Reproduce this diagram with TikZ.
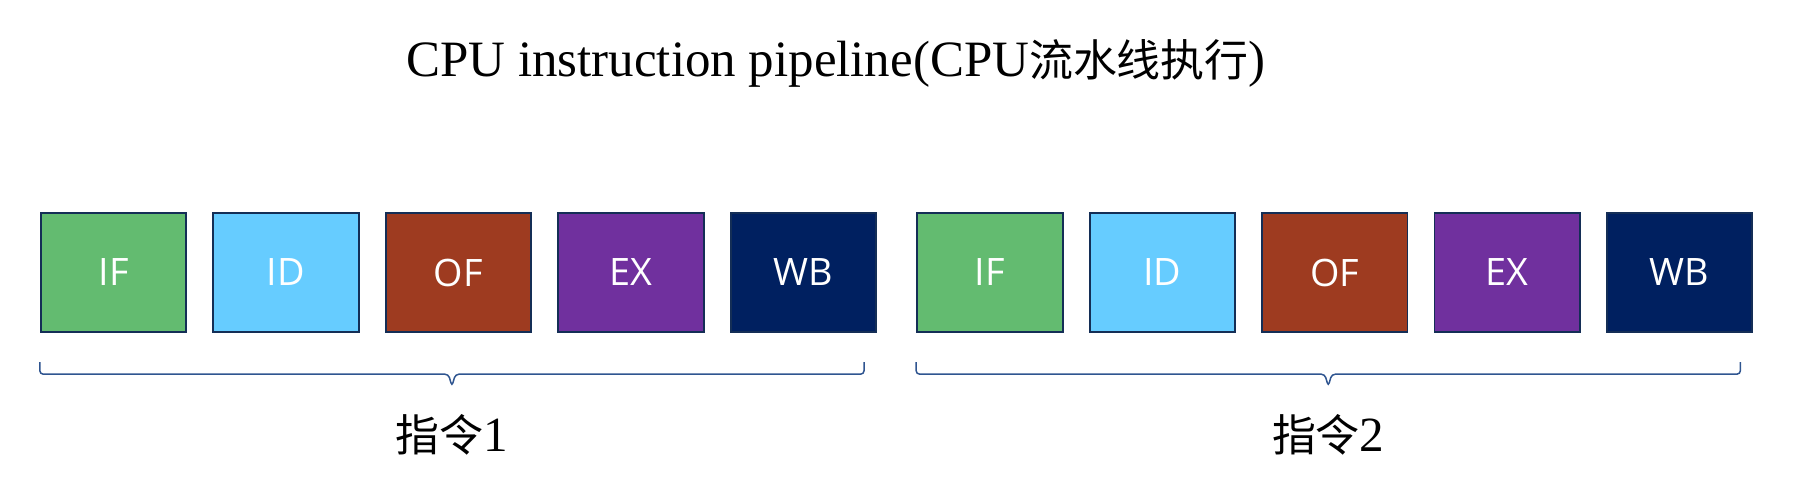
\documentclass[tikz,border=0pt]{standalone}
\usepackage{fontspec}
\setmainfont{Liberation Serif}
\newfontfamily\cjk{Noto Sans CJK SC}
\newfontfamily\stagefont{Open Sans}
\usetikzlibrary{calc}

\definecolor{ifgreen}{HTML}{63BB70}
\definecolor{idblue}{HTML}{66CCFF}
\definecolor{ofbrown}{HTML}{9E3B20}
\definecolor{expurple}{HTML}{70309E}
\definecolor{wbnavy}{HTML}{002060}
\definecolor{stageline}{HTML}{142E56}
\definecolor{braceblue}{HTML}{2F5590}

\begin{document}
\begin{tikzpicture}[x=0.02cm, y=-0.02cm, rectangle, every node/.style={inner sep=0pt}, stage/.style={draw=stageline, line width=1.1pt, minimum height=2.39cm, minimum width=2.91cm, text=white, font=\stagefont\fontsize{21.5}{24}\selectfont}, instr/.style={draw=braceblue, line width=0.85pt, rounded corners=0.07cm}, node distance=3.45cm]

			\useasboundingbox (0,0) rectangle (1806,493);

			\node [anchor=base] (title) at (836,77) {\fontsize{29}{34}\selectfont CPU instruction pipeline(CPU{\cjk\fontsize{25}{30}\selectfont 流水线执行})};

			\node [stage, fill=ifgreen] (IF1) at (113.5,272.5) {IF};
			\node [stage, fill=idblue] (ID1) [right of = IF1] {ID};
			\node [stage, fill=ofbrown] (OF1) [right of = ID1] {OF};
			\node [stage, fill=expurple] (EX1) [right of = OF1] {EX};
			\node [stage, fill=wbnavy] (WB1) [right of = EX1] {WB};

			\node [stage, fill=ifgreen] (IF2) [right of = WB1, node distance=3.73cm] {IF};
			\node [stage, fill=idblue] (ID2) [right of = IF2] {ID};
			\node [stage, fill=ofbrown] (OF2) [right of = ID2] {OF};
			\node [stage, fill=expurple] (EX2) [right of = OF2] {EX};
			\node [stage, fill=wbnavy] (WB2) [right of = EX2] {WB};

			\coordinate (B1s) at ([yshift=-0.58cm]IF1.south west);
			\coordinate (B1e) at ([xshift=-0.26cm, yshift=-0.58cm]WB1.south east);
			\coordinate (B1m) at ($(B1s)!0.5!(B1e)$);
			\coordinate (B2s) at ([yshift=-0.58cm]IF2.south west);
			\coordinate (B2e) at ([xshift=-0.26cm, yshift=-0.58cm]WB2.south east);
			\coordinate (B2m) at ($(B2s)!0.5!(B2e)$);

			\draw [instr] (B1s) -- ++(0,-0.24cm) -- ([xshift=-0.07cm, yshift=-0.24cm]B1m) -- ([yshift=-0.48cm]B1m)
			-- ([xshift=0.07cm, yshift=-0.24cm]B1m) -- ([yshift=-0.24cm]B1e) -- (B1e);
			\draw [instr] (B2s) -- ++(0,-0.24cm) -- ([xshift=-0.07cm, yshift=-0.24cm]B2m) -- ([yshift=-0.48cm]B2m)
			-- ([xshift=0.07cm, yshift=-0.24cm]B2m) -- ([yshift=-0.24cm]B2e) -- (B2e);

			\node (L1) [below of = B1m, node distance=1.46cm] {{\cjk\fontsize{25}{30}\selectfont 指令}\fontsize{28}{32}\selectfont 1};
			\node (L2) [below of = B2m, node distance=1.46cm] {{\cjk\fontsize{25}{30}\selectfont 指令}\fontsize{28}{32}\selectfont 2};

\end{tikzpicture}
\end{document}
